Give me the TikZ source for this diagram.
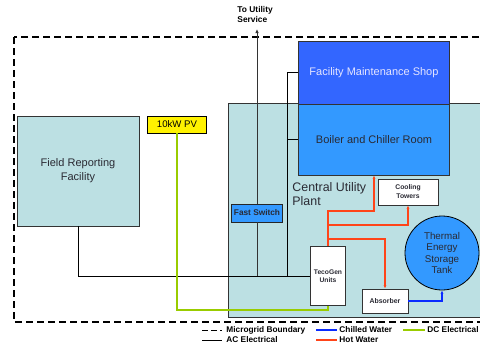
\documentclass[tikz,border=0pt]{standalone}
\usepackage{fontspec}
\setmainfont{Liberation Sans}
\usetikzlibrary{arrows.meta}

\definecolor{plantcyan}{HTML}{BCE0E3}
\definecolor{shopblue}{HTML}{3366FF}
\definecolor{roomblue}{HTML}{3399FF}
\definecolor{hotred}{HTML}{FF4419}
\definecolor{coldblue}{HTML}{0A2BFF}
\definecolor{dcgreen}{HTML}{99CC00}
\definecolor{edgegray}{HTML}{333333}
\definecolor{darktext}{HTML}{2A2A33}

\begin{document}
\begin{tikzpicture}[%
        x = 1pt, y = -1pt,
        line width = 0.9pt,
        box/.style = {draw = edgegray, line width = 0.8pt, inner sep = 1pt, align = center},
        ac/.style = {draw = black, line width = 0.9pt},
        hot/.style = {draw = hotred, line width = 1.1pt, -{Latex[length = 3.5pt, width = 3pt]}},
        cold/.style = {draw = coldblue, line width = 1.1pt, -{Latex[length = 3.5pt, width = 3pt]}},
        dc/.style = {draw = dcgreen, line width = 1.1pt},
        boundary/.style = {draw = black, line width = 1.1pt, dash pattern = on 7pt off 4pt},
        legend/.style = {anchor = west, inner sep = 0pt, font = \fontsize{8.3}{10}\selectfont\bfseries}
    ]

        % Fix the page to the size of the reference.
        \useasboundingbox (0,0) rectangle (480,346);
        \clip (0,0) rectangle (480,346);

        % Microgrid boundary and the central utility plant.
        \draw[boundary] (14,37) rectangle (495,322);
        \draw[draw = edgegray, fill = plantcyan] (228,103) rectangle (495,317);
        \node[anchor = north west, inner sep = 0pt, align = left,
              font = \fontsize{12.4}{14.5}\selectfont, text = darktext]
              (plantlabel) at (292,182) {Central Utility\\Plant};

        % Buildings and equipment.
        \node[box, fill = plantcyan, minimum width = 122pt, minimum height = 110pt,
              font = \fontsize{11}{14}\selectfont, text = darktext]
              (field) at (78,171) {Field Reporting\\Facility};
        \node[box, fill = yellow, draw = black, minimum width = 59pt, minimum height = 17pt,
              font = \fontsize{9.6}{11}\selectfont]
              (pv) at (177,124.5) {10kW PV};
        \node[box, fill = shopblue, minimum width = 151pt, minimum height = 63pt,
              font = \fontsize{11}{13}\selectfont, text = white!90!blue]
              (shop) at (374,72.5) {Facility Maintenance Shop};
        \node[box, fill = roomblue, minimum width = 151pt, minimum height = 71pt,
              font = \fontsize{11}{13}\selectfont, text = darktext]
              (boiler) at (374,139.5) {Boiler and Chiller Room};
        \node[box, fill = white, minimum width = 60pt, minimum height = 26pt,
              font = \fontsize{6.8}{9}\selectfont\bfseries, text = darktext]
              (cooling) at (408,192) {Cooling\\Towers};
        \node[box, circle, fill = roomblue, draw = black, minimum size = 74pt,
              font = \fontsize{9.8}{11.5}\selectfont, text = darktext]
              (tank) at (442,253) {Thermal\\Energy\\Storage\\Tank};
        \node[box, fill = white, minimum width = 35pt, minimum height = 59pt,
              font = \fontsize{6.7}{8.5}\selectfont\bfseries, text = darktext]
              (teco) at (328,276) {TecoGen\\Units};
        \node[box, fill = white, minimum width = 46pt, minimum height = 24pt,
              font = \fontsize{6.9}{9}\selectfont\bfseries, text = darktext]
              (absorber) at (385,301) {Absorber};
        \node[box, fill = roomblue, draw = black!85, minimum width = 51pt, minimum height = 18pt,
              font = \fontsize{8.3}{10}\selectfont\bfseries, text = darktext]
              (fast) at (257,213) {Fast Switch};

        % Utility service label and points on the AC bus.
        \node[anchor = north west, inner sep = 0pt, align = left,
              font = \fontsize{8.4}{10}\selectfont\bfseries]
              (util) at (237,6) {To Utility\\Service};
        \coordinate (utility) at (257,29);
        \coordinate (acbus) at (287,276);
        \coordinate (dcbend) at (328,310);

        % AC electrical.
        \draw[ac] (field.south) |- (teco.west);
        \draw[ac, draw = black!80] (fast.south |- teco.west) -- (fast.south);
        \draw[ac, draw = black!80, -{Latex[length = 4pt, width = 3.5pt]}] (fast.north) -- (utility);
        \draw[ac] (shop.west) -| (acbus);
        \draw[ac] (boiler.west) -- (boiler.west -| acbus);

        % DC electrical.
        \draw[dc] (pv.south) |- (dcbend) -- (teco.south);

        % Hot water.
        \draw[hot] (teco.north) -- (teco.north |- 0,211) -| (boiler.south);
        \draw[hot] (teco.north |- 0,225) -| (cooling.south);
        \draw[hot] (teco.north |- 0,239) -| (absorber.north);

        % Chilled water.
        \draw[cold] (absorber.east) -| (tank.south);

        % Legend.
        \node[legend] (lboundary) at (226,330) {Microgrid Boundary};
        \node[legend] (lac) at (226,340) {AC Electrical};
        \node[legend] (lcold) at (339,330) {Chilled Water};
        \node[legend] (lhot) at (339,340) {Hot Water};
        \node[legend] (ldc) at (427,330) {DC Electrical};
        \draw[boundary, line width = 0.9pt, dash pattern = on 6pt off 3pt]
            ([xshift = -24pt]lboundary.west) -- ([xshift = -4pt]lboundary.west);
        \draw[ac] ([xshift = -24pt]lac.west) -- ([xshift = -4pt]lac.west);
        \draw[draw = coldblue, line width = 1.1pt] ([xshift = -23pt]lcold.west) -- ([xshift = -2pt]lcold.west);
        \draw[draw = hotred, line width = 1.1pt] ([xshift = -23pt]lhot.west) -- ([xshift = -2pt]lhot.west);
        \draw[dc] ([xshift = -24pt]ldc.west) -- ([xshift = -2pt]ldc.west);
    \end{tikzpicture}
\end{document}
